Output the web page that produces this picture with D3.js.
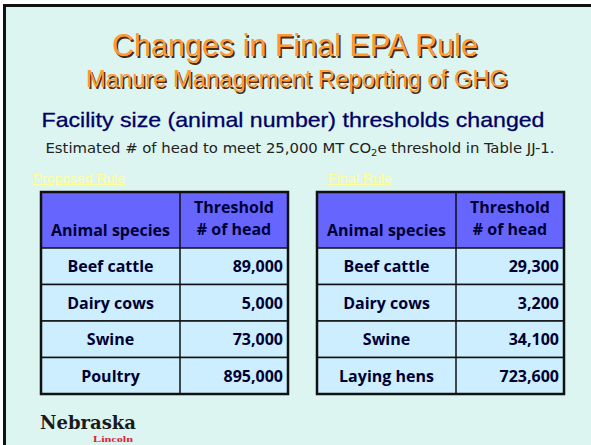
<!DOCTYPE html>
<html>
<head>
<meta charset="utf-8">
<script src="https://cdn.jsdelivr.net/npm/d3@7"></script>
<style>
  html, body { margin: 0; padding: 0; background: #fff; }
  svg { display: block; }
</style>
</head>
<body>
<script>
// table contents
var headerLeft = ["Animal species"];
var headerRight = ["Threshold", "# of head"];
var proposedSpecies = ["Beef cattle", "Dairy cows", "Swine", "Poultry"];
var proposedHead = [89000, 5000, 73000, 895000];
var finalSpecies = ["Beef cattle", "Dairy cows", "Swine", "Laying hens"];
var finalHead = [29300, 3200, 34100, 723600];
var tableTitles = ["Proposed Rule", "Final Rule"];

var width = 591, height = 445;
var fmt = d3.format(",");

const svg = d3.select("body").append("svg")
    .attr("width", width)
    .attr("height", height);

// slide background with black top/left edge
svg.append("rect").attr("x", 0).attr("y", 0).attr("width", width).attr("height", height).attr("fill", "#ffffff");
svg.append("rect").attr("x", 3).attr("y", 4).attr("width", width).attr("height", height).attr("fill", "#111111");
svg.append("rect").attr("x", 6).attr("y", 7).attr("width", width).attr("height", height).attr("fill", "#dcf5f1");

// titles
function shadowText(txt, x, y, size, len) {
  var g = svg.append("g").attr("font-family", "Liberation Sans, Arial, sans-serif")
      .attr("font-size", size).attr("text-anchor", "middle");
  g.append("text").attr("x", x + 1.5).attr("y", y + 1.5).attr("fill", "#4a2a10")
      .attr("textLength", len).attr("lengthAdjust", "spacingAndGlyphs").text(txt);
  g.append("text").attr("x", x).attr("y", y).attr("fill", "#ff9933")
      .attr("textLength", len).attr("lengthAdjust", "spacingAndGlyphs").text(txt);
}
shadowText("Changes in Final EPA Rule", 295, 56, 31, 366);
shadowText("Manure Management Reporting of GHG", 297, 87, 23, 422);

svg.append("text")
    .attr("x", 293).attr("y", 127)
    .attr("text-anchor", "middle")
    .attr("font-family", "Liberation Sans, Arial, sans-serif")
    .attr("font-size", 21)
    .attr("fill", "#000066")
    .attr("stroke", "#000066").attr("stroke-width", 0.3)
    .attr("textLength", 503).attr("lengthAdjust", "spacingAndGlyphs")
    .text("Facility size (animal number) thresholds changed");

var sub = svg.append("text")
    .attr("x", 300).attr("y", 153)
    .attr("text-anchor", "middle")
    .attr("font-family", "DejaVu Sans Condensed, DejaVu Sans, sans-serif")
    .attr("font-size", 13.5)
    .attr("fill", "#222222")
    .attr("textLength", 509).attr("lengthAdjust", "spacingAndGlyphs");
sub.append("tspan").text("Estimated # of head to meet 25,000 MT CO");
sub.append("tspan").attr("font-size", 9).attr("dy", 3).text("2");
sub.append("tspan").attr("dy", -3).text("e threshold in Table JJ-1.");

// tables
function drawTable(x0, x1, x2, species, heads, title, tx, tlen) {
  var g = svg.append("g");
  var top = 192, headBottom = 248, bottom = 394;

  var y = d3.scaleBand()
      .domain(species)
      .range([headBottom, bottom]);

  g.append("text")
      .attr("x", tx).attr("y", 183)
      .attr("font-family", "Liberation Sans, Arial, sans-serif")
      .attr("font-size", 13.5)
      .attr("fill", "#ffff99")
      .attr("text-decoration", "underline")
      .attr("textLength", tlen).attr("lengthAdjust", "spacingAndGlyphs")
      .text(title);

  g.append("rect").attr("x", x0).attr("y", top).attr("width", x2 - x0).attr("height", headBottom - top)
      .attr("fill", "#6666ff");

  g.selectAll("rect.row")
    .data(species)
    .enter().append("rect")
      .attr("class", "row")
      .attr("x", x0)
      .attr("y", d => y(d))
      .attr("width", x2 - x0)
      .attr("height", y.bandwidth())
      .attr("fill", "#cceeff")
      .attr("stroke", "#111")
      .attr("stroke-width", 1.5);

  g.append("line").attr("x1", x1).attr("x2", x1).attr("y1", top).attr("y2", bottom)
      .attr("stroke", "#111").attr("stroke-width", 1.5);
  g.append("rect").attr("x", x0).attr("y", top).attr("width", x2 - x0).attr("height", bottom - top)
      .attr("fill", "none").attr("stroke", "#111").attr("stroke-width", 2.5);

  var font = "Comic Sans MS, Open Sans, sans-serif";
  var ink = "#000033";
  var fs = 16;
  g.append("text")
      .attr("x", (x0 + x1) / 2).attr("y", 236)
      .attr("text-anchor", "middle")
      .attr("font-family", font).attr("font-weight", 700).attr("font-size", fs)
      .attr("fill", ink)
      .text(headerLeft[0]);
  g.selectAll("text.hr")
    .data(headerRight)
    .enter().append("text")
      .attr("class", "hr")
      .attr("x", (x1 + x2) / 2).attr("y", (d, i) => 213 + i * 22)
      .attr("text-anchor", "middle")
      .attr("font-family", font).attr("font-weight", 700).attr("font-size", fs)
      .attr("fill", ink)
      .text(d => d);

  g.selectAll("text.sp")
    .data(species)
    .enter().append("text")
      .attr("class", "sp")
      .attr("x", (x0 + x1) / 2)
      .attr("y", d => y(d) + y.bandwidth() / 2 + 6)
      .attr("text-anchor", "middle")
      .attr("font-family", font).attr("font-weight", 700).attr("font-size", fs)
      .attr("fill", ink)
      .text(d => d);

  g.selectAll("text.val")
    .data(heads)
    .enter().append("text")
      .attr("class", "val")
      .attr("x", x2 - 5)
      .attr("y", (d, i) => y(species[i]) + y.bandwidth() / 2 + 6)
      .attr("text-anchor", "end")
      .attr("font-family", font).attr("font-weight", 700).attr("font-size", fs)
      .attr("fill", ink)
      .text(d => fmt(d));
}

drawTable(41, 180, 288, proposedSpecies, proposedHead, tableTitles[0], 33, 92);
drawTable(317, 456, 564, finalSpecies, finalHead, tableTitles[1], 328, 64);

// logo
svg.append("text")
    .attr("x", 40).attr("y", 429)
    .attr("font-family", "DejaVu Serif, Liberation Serif, serif")
    .attr("font-weight", "bold")
    .attr("font-size", 19)
    .attr("fill", "#1a1a1a")
    .attr("textLength", 96).attr("lengthAdjust", "spacingAndGlyphs")
    .text("Nebraska");
svg.append("text")
    .attr("x", 93).attr("y", 442)
    .attr("font-family", "Liberation Serif, serif")
    .attr("font-weight", "bold")
    .attr("font-size", 8)
    .attr("fill", "#e0203a")
    .attr("textLength", 40).attr("lengthAdjust", "spacingAndGlyphs")
    .text("Lincoln");
</script>
</body>
</html>
